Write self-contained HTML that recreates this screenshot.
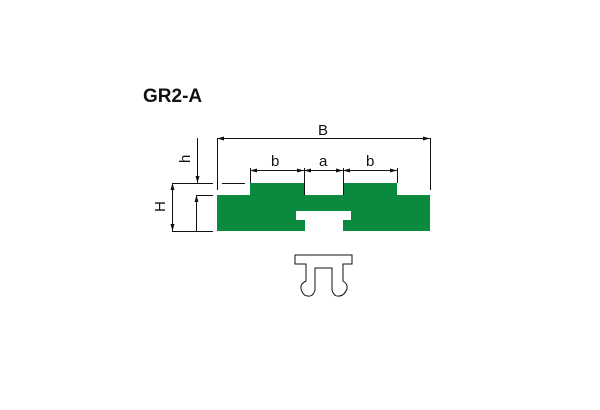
<!DOCTYPE html>
<html><head><style>
html,body{margin:0;padding:0;background:#fff;width:600px;height:410px;overflow:hidden}
</style></head><body>
<svg width="600" height="410" viewBox="0 0 600 410" xmlns="http://www.w3.org/2000/svg">
<text x="143" y="102" font-family="Liberation Sans, sans-serif" font-weight="bold" font-size="19" fill="#111">GR2-A</text>
<path d="M217 195 H250 V183 H304 V195 H343 V183 H397 V195 H430 V231 H343 V220 H351 V211 H296 V220 H305 V231 H217 Z" fill="#0a8a3e"/>
<g stroke="#111" stroke-width="1" fill="none">
<line x1="217.5" y1="138" x2="217.5" y2="190"/>
<line x1="430.5" y1="138" x2="430.5" y2="190"/>
<line x1="217" y1="138.5" x2="430" y2="138.5"/>
<line x1="250" y1="170.5" x2="397" y2="170.5"/>
<line x1="250.5" y1="168" x2="250.5" y2="183"/>
<line x1="304.5" y1="168" x2="304.5" y2="195"/>
<line x1="343.5" y1="168" x2="343.5" y2="195"/>
<line x1="397.5" y1="168" x2="397.5" y2="183"/>
<line x1="197.5" y1="138" x2="197.5" y2="183"/>
<line x1="172" y1="183.5" x2="213" y2="183.5"/>
<line x1="222" y1="183.5" x2="245" y2="183.5"/>
<line x1="172.5" y1="183" x2="172.5" y2="231"/>
<line x1="172" y1="231.5" x2="213" y2="231.5"/>
<line x1="196.5" y1="195" x2="196.5" y2="231"/>
<line x1="196" y1="195.5" x2="213" y2="195.5"/>
</g>
<g fill="#111">
<path d="M217 138.5 l7 -2 v4z M430 138.5 l-7 -2 v4z"/>
<path d="M250 170.5 l7 -2 v4z M304 170.5 l-7 -2 v4z M304 170.5 l7 -2 v4z M343 170.5 l-7 -2 v4z M343 170.5 l7 -2 v4z M397 170.5 l-7 -2 v4z"/>
<path d="M197.5 183 l-2 -7 h4z M172.5 183 l-2 7 h4z M172.5 231 l-2 -7 h4z M196.5 195 l-2 7 h4z"/>
</g>
<g font-family="Liberation Sans, sans-serif" font-size="15" fill="#111">
<text x="318" y="135">B</text>
<text x="271" y="166">b</text>
<text x="319" y="166">a</text>
<text x="366" y="166">b</text>
<text transform="translate(190 163) rotate(-90)">h</text>
<text transform="translate(165 212) rotate(-90)">H</text>
</g>
<path d="M295 255 H352 V264 H343 V281 Q348 284 347 289 Q344 296 339 296 Q334 297 332 290 V268 H315 V290 Q313 297 308 296 Q303 296 301 289 Q300 284 306 281 V264 H295 Z" fill="none" stroke="#111" stroke-width="1"/>
</svg>
</body></html>
